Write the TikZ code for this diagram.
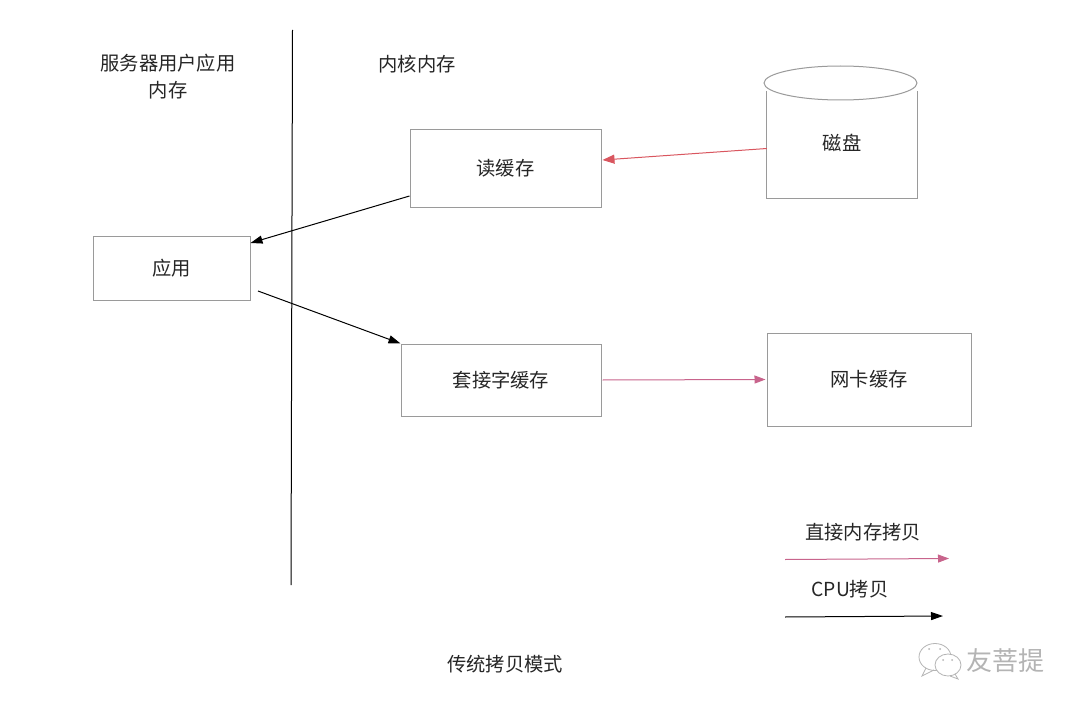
\documentclass[tikz,border=0pt]{standalone}
\usepackage{fontspec}
\setmainfont{Liberation Sans}
\newfontfamily\cjk{Noto Sans CJK SC}
\usetikzlibrary{arrows.meta}
\definecolor{boxgray}{HTML}{9A9A9A}
\definecolor{redline}{HTML}{D9565F}
\definecolor{pinkline}{HTML}{C8648C}
\definecolor{markgray}{HTML}{B4B4B4}
\tikzset{
  box/.style={draw=boxgray,line width=1pt,rectangle,inner sep=0pt,font=\cjk\fontsize{19.3}{26}\selectfont,text=black!85},
  lab/.style={inner sep=0pt,align=center,font=\cjk\fontsize{19.3}{27}\selectfont,text=black!85},
  blackarrow/.style={draw=black,line width=1pt,-{Triangle[length=12pt,width=8pt]}},
  redarrow/.style={draw=redline,line width=1pt,-{Triangle[length=12pt,width=9pt]}},
  pinkarrow/.style={draw=pinkline,line width=1pt,-{Triangle[length=11pt,width=8pt]}},
}
\begin{document}
\begin{tikzpicture}[x=1pt,y=-1pt]
\useasboundingbox[fill=white] (0,0) rectangle (1080,709);
% divider
\coordinate (divtop) at (292.5,30);
\coordinate (divbot) at (291,585);
\draw[black,line width=1pt] (divtop) -- (divbot);
% labels
\node[lab] (userlab) at (168,77) {服务器用户应用\\内存};
\node[lab] (kernlab) at (417,64) {内核内存};
\node[lab] (title) at (505,664) {传统拷贝模式};
% boxes
\node[box,minimum width=191pt,minimum height=78pt] (read) at (505.5,168) {读缓存};
\node[box,minimum width=157pt,minimum height=64pt] (app) at (171.5,268) {应用};
\node[box,minimum width=200pt,minimum height=72pt] (sock) at (501,380) {套接字缓存};
\node[box,minimum width=204pt,minimum height=93pt] (nic) at (869,379.5) {网卡缓存};
% disk
\node[lab,minimum width=150pt,minimum height=115pt] (disk) at (842,140.5) {};
\draw[boxgray,line width=1pt] ([yshift=-8pt]disk.north west) -- (disk.south west) -- (disk.south east) -- ([yshift=-8pt]disk.north east);
\draw[boxgray,line width=1pt,fill=white] (840.5,83) ellipse [x radius=76.5pt,y radius=17pt];
\node[lab] (disklab) at (842,143) {磁盘};
% connectors
\draw[redarrow] ([yshift=-8pt]disk.west) -- ([xshift=1pt,yshift=8pt]read.east);
\draw[blackarrow] ([yshift=-28pt]read.west) -- ([yshift=25pt]app.east);
\coordinate (appout) at (258,291);
\draw[blackarrow] (appout) -- (sock.north west);
\draw[pinkarrow] ([xshift=1pt]sock.east) -- ([xshift=-1pt]nic.west);
% legend
\node[lab] (leg1) at (863,532) {直接内存拷贝};
\coordinate (p1) at (785,559.5);
\coordinate (p2) at (949,558.5);
\draw[pinkarrow] (p1) -- (p2);
\node[lab] (leg2) at (850,589) {CPU{\cjk 拷贝}};
\coordinate (b1) at (785,617);
\coordinate (b2) at (943,616);
\draw[blackarrow] (b1) -- (b2);
% watermark
\node[inner sep=0pt,text=markgray,font=\cjk\fontsize{26}{26}\selectfont] (wm) at (1005,661) {友菩提};
\draw[markgray,line width=0.8pt,fill=white] (935,657) ellipse [x radius=16pt,y radius=13.5pt];
\draw[markgray,line width=0.8pt] (926,668) -- (922,676) -- (934,670);
\draw[markgray,line width=0.8pt,fill=white] (948,665) ellipse [x radius=13pt,y radius=11pt];
\draw[markgray,line width=0.8pt] (955,674) -- (958,679) -- (950,676);
\fill[markgray] (929,649) circle (1pt) (940,649) circle (1pt) (943,660) circle (1pt) (952,660) circle (1pt);
\end{tikzpicture}
\end{document}
